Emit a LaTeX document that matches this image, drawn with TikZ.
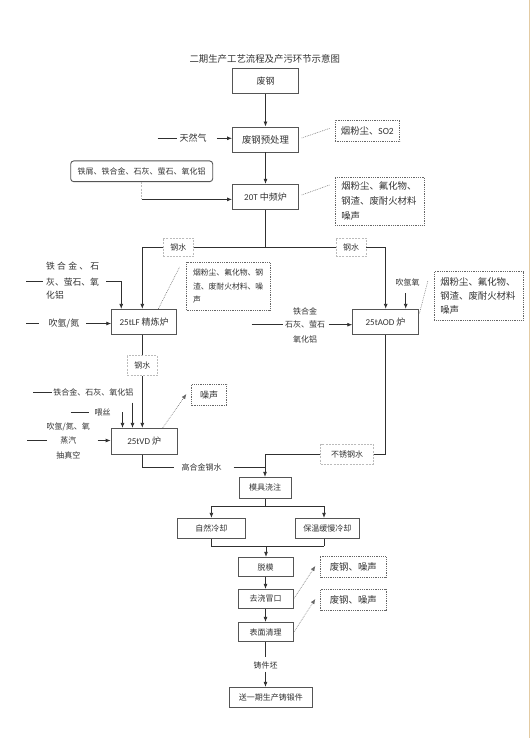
\documentclass[tikz,border=0pt]{standalone}
\usepackage{fontspec}
\setmainfont{Noto Sans CJK SC}
\newfontfamily\lat{Carlito}
\usetikzlibrary{arrows.meta,calc}
\definecolor{lnc}{HTML}{303030}
\definecolor{bdc}{HTML}{555555}
\definecolor{txc}{HTML}{333333}
\definecolor{lbc}{HTML}{BBBBBB}
\definecolor{dtc}{HTML}{666666}
\definecolor{edgec}{HTML}{E3CBA3}
\tikzset{
  fa/.style={font=\fontsize{8}{10}\selectfont},
  fb/.style={font=\fontsize{9}{11}\selectfont},
  fc/.style={font=\fontsize{9.4}{11}\selectfont},
  box/.style={draw=bdc, line width=0.9pt, fill=white, text=txc, inner sep=0pt},
  lbl/.style={draw=lbc, dash pattern=on 2pt off 1.2pt, line width=0.6pt, fill=white, text=txc, inner sep=0pt, fa},
  emi/.style={draw=dtc, dash pattern=on 0.8pt off 1pt, line width=0.7pt, text=txc, align=left, inner ysep=0pt},
  side/.style={text=txc, inner sep=0pt},
  wire/.style={draw=lnc, line width=0.8pt},
  arr/.style={wire, -{Latex[length=5pt,width=4pt]}},
  dl/.style={draw=dtc, line width=0.5pt, dash pattern=on 0.8pt off 1pt},
  da/.style={dl, -{Latex[length=5pt,width=4pt]}},
  gl/.style={draw=lbc, line width=0.6pt, dash pattern=on 2pt off 1.2pt},
}
\begin{document}
\begin{tikzpicture}[x=1pt,y=-1pt]
\useasboundingbox (0,0) rectangle (531,738);
\fill[white] (0,0) rectangle (531,738);
\draw[edgec, line width=1pt] (529.5,0) -- (529.5,738);

% title
\node[side, fc] (title) at (264.7,59) {二期生产工艺流程及产污环节示意图};

% main column boxes
\node[box, fb, minimum width=66, minimum height=25] (fg) at (265.5,80.7) {废钢};
\node[box, fc, minimum width=66, minimum height=25] (yc) at (265.5,139.5) {废钢预处理};
\node[box, fb, minimum width=66, minimum height=25] (zp) at (265.5,196.8) {{\lat 20T} 中频炉};
\node[box, fa, rounded corners=3pt, minimum width=142, minimum height=20.7] (tl) at (141.7,171.3) {铁屑、铁合金、石灰、萤石、氧化铝};

% emission boxes
\node[emi, fc, inner xsep=6pt, minimum width=64, minimum height=21.4] (e1) at (367.3,131) {烟粉尘、{\lat SO2}};
\node[emi, font=\fontsize{9.4}{15}\selectfont, inner xsep=6pt, text width=77, minimum height=47.7] (e2) at (379.8,201.2) {烟粉尘、氟化物、\\钢渣、废耐火材料\\噪声};
\node[emi, font=\fontsize{7.8}{13.7}\selectfont, inner xsep=6.4pt, text width=70.5, minimum height=47.7] (e3) at (228.3,286.2) {烟粉尘、氟化物、钢\\渣、废耐火材料、噪\\声};
\node[emi, font=\fontsize{9.4}{14}\selectfont, inner xsep=6pt, text width=77, minimum height=48.3] (e4) at (478.8,295.8) {烟粉尘、氟化物、\\钢渣、废耐火材料\\噪声};
\node[emi, fb, inner xsep=4pt, minimum width=35, minimum height=21.4, align=center] (e5) at (209.2,395) {噪声};
\node[emi, fc, minimum width=65.3, minimum height=20.6, align=center] (e6) at (353.3,567) {废钢、噪声};
\node[emi, fc, minimum width=65.3, minimum height=21.4, align=center] (e7) at (353.3,600) {废钢、噪声};

% furnaces
\node[box, fb, minimum width=65, minimum height=24.7] (lf) at (144.2,321.7) {{\lat 25tLF} 精炼炉};
\node[box, fb, minimum width=65.6, minimum height=25] (aod) at (385.5,321.8) {{\lat 25tAOD} 炉};
\node[box, fb, minimum width=66.3, minimum height=25.7] (vd) at (144.2,441.2) {{\lat 25tVD} 炉};

% label boxes
\node[lbl, minimum width=30, minimum height=18.7] (gs1) at (178.3,247.3) {钢水};
\node[lbl, minimum width=30, minimum height=18.7] (gs2) at (351,247.3) {钢水};
\node[lbl, minimum width=30, minimum height=20] (gs3) at (142.3,365.7) {钢水};
\node[lbl, minimum width=52.6, minimum height=20] (bx) at (347,454) {不锈钢水};

% lower boxes
\node[box, fa, minimum width=52, minimum height=21] (mj) at (265,487.8) {模具浇注};
\node[box, fa, minimum width=67.7, minimum height=20] (zr) at (211.4,528.3) {自然冷却};
\node[box, fa, minimum width=63.3, minimum height=20] (bw) at (327.3,528.3) {保温缓慢冷却};
\node[box, fa, minimum width=55, minimum height=19.4] (tm) at (265.5,567) {脱模};
\node[box, fa, minimum width=55, minimum height=19] (qj) at (265.5,598.8) {去浇冒口};
\node[box, fa, minimum width=55, minimum height=19.4] (bm) at (265.5,632) {表面清理};
\node[box, fa, minimum width=83, minimum height=20] (sy) at (270.8,697.3) {送一期生产铸锻件};

% side texts
\node[side, fb] (trq) at (193,138.3) {天然气};
\node[side, font=\fontsize{8.8}{10}\selectfont, anchor=west] (l1) at (46,266) {\makebox[53pt]{铁\hfill 合\hfill 金\hfill 、\hfill 石}};
\node[side, font=\fontsize{8.8}{10}\selectfont, anchor=west] (l2) at (46,281.7) {灰、萤石、氧};
\node[side, font=\fontsize{8.8}{10}\selectfont, anchor=west] (l3) at (46,295) {化铝};
\node[side, fb] (cn) at (64,323.5) {吹氩/氮};
\node[side, fa] (cyy) at (407.7,282.3) {吹氩氧};
\node[side, fa] (a1) at (305,311) {铁合金};
\node[side, fa] (a2) at (305,324.7) {石灰、萤石};
\node[side, fa] (a3) at (305,339) {氧化铝};
\node[side, fa] (v1) at (93.3,392.3) {铁合金、石灰、氧化铝};
\node[side, fa] (v2) at (102.7,412.3) {喂丝};
\node[side, fa] (v3) at (68.3,427.3) {吹氩/氮、氧};
\node[side, fa] (v4) at (68.3,440.5) {蒸汽};
\node[side, fa] (v5) at (68.3,455) {抽真空};
\node[side, fa] (ghj) at (201.7,467.5) {高合金钢水};
\node[side, fa] (zjp) at (265.5,665) {铸件坯};

% coordinates
\coordinate (c1) at (142.3,247.3);
\coordinate (c2) at (385.7,247.3);
\coordinate (j1) at (265.5,247.3);
\coordinate (t0) at (157.7,138.3);
\coordinate (tj) at ($(tl.south)+(0,17.3)$);
\coordinate (lf0) at (26,281.7);
\coordinate (cn0) at (26,323.5);
\coordinate (xo) at (405.7,293);
\coordinate (ax0) at (251.7,324.7);
\coordinate (v10) at (33.3,392.3);
\coordinate (v20) at (70.7,412.3);
\coordinate (v40) at (27.3,440.5);
\coordinate (v1d) at ($(v1.east)+(-1,10.4)$);
\coordinate (v2d) at ($(v2.east)+(11.6,0)$);
\coordinate (j2) at (265,467.5);
\coordinate (s1) at (265,506);
\coordinate (s2) at (266,546);
\coordinate (bx0) at (324,0);
\coordinate (zj1) at ($(zjp.south)+(0,3)$);

% top chain
\draw[arr] (fg) -- (yc);
\draw[arr] (yc) -- (zp);
\draw[wire] (t0) -- ($(trq.west)+(-2.8,0)$);
\draw[arr] ($(trq.east)+(10.2,0)$) -- (trq.east -| yc.west);
\draw[gl] (tl.south) -- (tj);
\draw[arr] (tj) -- (tj -| zp.west);
\draw[dl] ($(yc.east)+(2.7,-1.5)$) -- ($(e1.west)+(-4.6,-2.7)$);
\draw[dl] ($(zp.east)+(2.7,-1.8)$) -- ($(e2.north west)+(-4.6,7.7)$);

% split
\draw[wire] (zp.south) -- (j1);
\draw[wire] (c1) -- (gs1.west);
\draw[wire] (gs1.east) -- (gs2.west);
\draw[wire] (gs2.east) -- (c2);
\draw[arr] (c1) -- (c1 |- lf.north);
\draw[arr] (c2) -- (c2 |- aod.north);

% LF inputs
\draw[wire] (lf0) -- ($(l2.west)+(-2.7,0)$);
\draw[arr] ($(l2.east)+(7,0)$) -| ($(lf.north west)+(10,0)$);
\draw[wire] (cn0) -- ($(cn.west)+(-10,0)$);
\draw[arr] ($(cn.east)+(7,0)$) -- (cn.east -| lf.west);
\draw[dl] ($(lf.north)+(14.1,0)$) -- ($(e3.north west)+(-6.7,5)$);

% AOD inputs
\draw[arr] (xo) -- (xo |- aod.north);
\draw[wire] (ax0) -- ($(a2.west)+(-2,0)$);
\draw[arr] ($(a2.east)+(3.3,0)$) -- (a2.east -| aod.west);
\draw[dl] ($(aod.east)+(0.7,-8.5)$) -- ($(e4.north west)+(-6,9.3)$);

% LF -> VD
\draw[wire] (c1 |- lf.south) -- (gs3.north);
\draw[arr] (gs3.south) -- (c1 |- vd.north);
\draw[wire] (v10) -- ($(v1.west)+(-1.6,0)$);
\draw[arr] (v1d) -- (v1d |- vd.north);
\draw[wire] (v20) -- ($(v2.west)+(-5.4,0)$);
\draw[arr] (v2d) -- (v2d |- vd.north);
\draw[wire] (v40) -- ($(v4.west)+(-13,0)$);
\draw[arr] ($(v4.east)+(21,0)$) -- (v4.east -| vd.west);
\draw[da] ($(vd.north)+(18.5,0)$) -- ($(e5.west)+(-5,-1)$);

% to casting
\draw[wire] (c1 |- vd.south) |- ($(ghj.west)+(-7.7,0)$);
\draw[wire] ($(ghj.east)+(11.6,0)$) -- (j2);
\draw[wire] (aod.south) |- (bx.east);
\draw[arr] (bx.west) -| (mj.north);

% cooling split
\draw[wire] (mj.south) -- (s1);
\draw[wire] (s1 -| zr.north) -- (s1 -| bx0);
\draw[arr] (s1 -| zr.north) -- (zr.north);
\draw[arr] (s1 -| bx0) -- (bx0 |- bw.north);
\draw[wire] (zr.south) -- (s2 -| zr.south);
\draw[wire] (bx0 |- bw.south) -- (s2 -| bx0);
\draw[wire] (s2 -| zr.south) -- (s2 -| bx0);
\draw[arr] (s2) -- (s2 |- tm.north);

% finishing
\draw[arr] (tm) -- (qj);
\draw[arr] (qj) -- (bm);
\draw[da] ($(qj.east)+(0.6,-0.5)$) -- ($(e6.west)+(-5,-1)$);
\draw[da] ($(bm.east)+(0.6,-0.3)$) -- ($(e7.west)+(-5,-1)$);
\draw[wire] (bm.south) -- ($(zjp.north)+(0,-4)$);
\draw[arr] (zj1) -- (zj1 |- sy.north);
\end{tikzpicture}
\end{document}
